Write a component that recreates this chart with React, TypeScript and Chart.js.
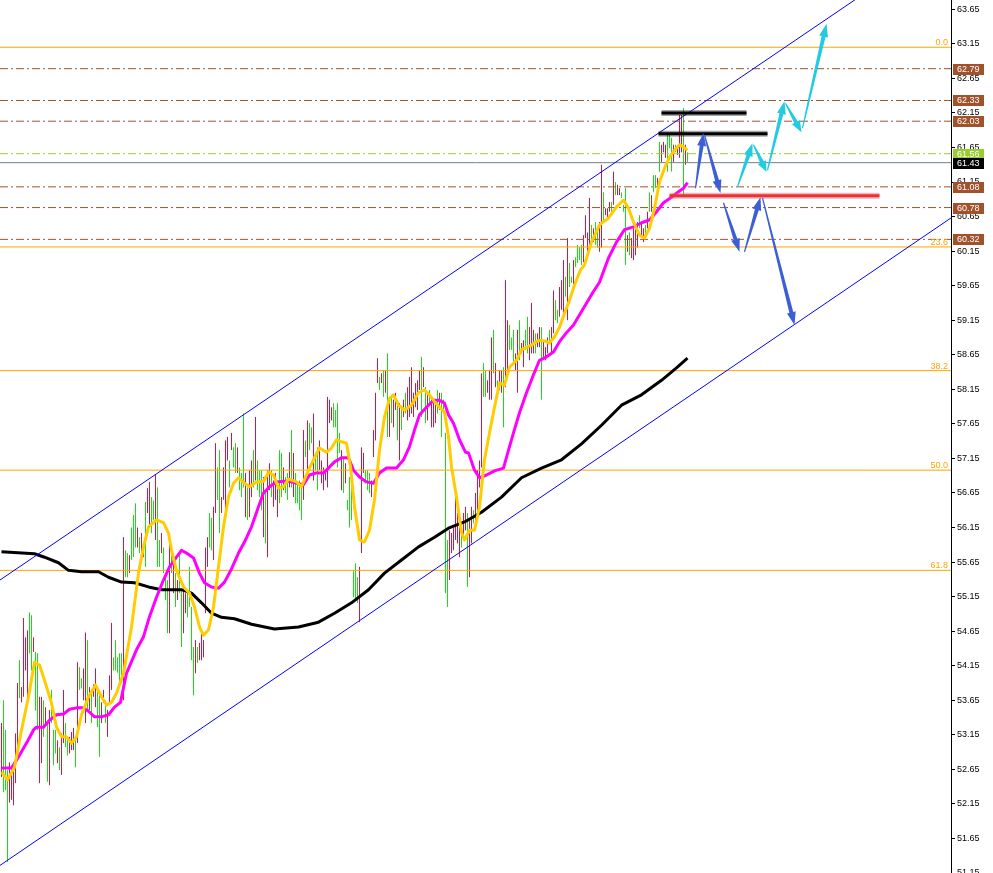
import React, { useEffect, useRef } from 'react';
import { Chart, registerables } from 'chart.js';
Chart.register(...registerables);

const X_MIN = -0.75;
const X_MAX = 474.75;
const Y_MIN = 51.15;
const Y_MAX = 63.784;

const yTicks = [51.15, 51.65, 52.15, 52.65, 53.15, 53.65, 54.15, 54.65, 55.15, 55.65, 56.15, 56.65, 57.15, 57.65, 58.15, 58.65, 59.15, 59.65, 60.15, 60.65, 61.15, 61.65, 62.15, 62.65, 63.15, 63.65];

// [high, low, up(1)/down(0)]
const bars: [number, number, number][] = [
  [53.32,52.54,0],[53.65,52.32,1],[53.22,52.35,1],[52.64,51.31,1],[52.75,52.17,0],[52.68,52.21,0],[52.74,52.13,0],[53.17,52.45,0],[53.90,52.78,0],[54.23,53.68,1],
  [53.84,53.62,0],[54.84,53.70,0],[54.56,54.08,0],[54.66,53.65,0],[54.92,54.33,1],[54.88,54.08,1],[54.56,54.35,0],[54.35,53.50,1],[54.33,53.22,1],[53.70,52.45,0],
  [53.70,52.74,0],[53.65,53.12,1],[53.55,53.32,0],[53.32,52.47,1],[53.51,52.42,0],[53.80,53.32,1],[53.22,52.71,1],[53.22,52.88,1],[53.07,52.74,0],[52.97,52.64,1],
  [53.17,52.57,0],[53.80,53.03,0],[53.32,52.97,1],[53.12,52.85,1],[53.12,52.88,0],[53.19,52.93,0],[53.25,52.93,0],[53.07,52.68,1],[54.20,53.03,0],[54.13,53.80,1],
  [53.97,53.82,1],[54.11,53.65,0],[54.63,53.32,0],[54.52,53.51,1],[53.84,53.51,0],[53.80,53.32,1],[53.88,53.70,0],[54.11,53.55,0],[53.80,53.26,1],[53.75,52.83,1],
  [53.62,53.32,0],[53.80,53.61,0],[53.65,53.32,1],[53.51,53.12,0],[54.01,53.61,0],[54.77,53.80,0],[54.27,54.08,1],[54.52,54.08,1],[54.27,54.05,1],[54.33,53.84,1],
  [54.33,53.90,1],[56.01,53.65,0],[55.82,55.43,1],[55.78,55.43,1],[55.75,55.49,0],[56.15,55.68,1],[56.33,55.72,1],[56.50,55.86,1],[56.15,55.86,0],[56.01,55.78,1],
  [56.07,55.68,0],[55.92,55.72,0],[56.52,55.58,1],[56.72,56.36,0],[56.81,56.15,0],[56.59,56.07,1],[56.54,56.26,1],[56.91,55.97,0],[56.73,55.58,1],[55.97,55.58,1],
  [56.07,55.78,0],[55.86,55.49,1],[55.49,55.10,1],[55.39,54.62,1],[55.92,54.62,0],[55.78,55.49,1],[55.63,55.20,0],[55.49,55.00,1],[55.39,55.10,0],[55.78,55.20,1],
  [55.24,54.42,1],[55.29,54.62,0],[55.20,54.91,0],[55.24,54.85,1],[55.58,55.00,1],[55.00,54.23,1],[54.42,53.72,1],[54.52,54.04,0],[54.42,54.19,1],[54.48,54.23,0],
  [54.62,54.23,0],[54.52,54.27,0],[55.86,54.91,0],[56.01,55.58,0],[56.36,55.86,1],[56.29,55.82,1],[56.45,55.68,0],[57.37,56.36,0],[57.02,56.55,1],[57.27,56.07,1],
  [56.59,56.36,0],[57.02,56.55,0],[57.41,56.30,0],[57.46,57.12,0],[57.12,56.73,1],[57.52,57.27,0],[57.31,57.02,1],[57.37,56.94,1],[57.31,56.94,0],[57.02,56.69,1],
  [56.94,56.59,1],[57.80,56.73,1],[56.94,56.30,0],[56.73,56.26,1],[56.98,56.30,0],[57.12,56.59,0],[57.27,56.73,1],[57.75,56.83,0],[57.12,56.69,1],[56.98,56.59,1],
  [56.98,56.40,1],[56.88,56.01,0],[56.69,55.92,1],[56.98,55.72,0],[57.08,56.69,0],[56.98,56.59,1],[56.83,56.45,0],[56.94,56.55,0],[56.73,56.30,0],[57.27,56.50,1],
  [57.23,56.59,1],[57.02,56.69,0],[56.88,56.65,1],[56.94,56.55,1],[57.24,56.73,0],[57.56,56.73,1],[57.23,56.59,0],[56.94,56.50,1],[56.79,56.50,1],[56.83,56.40,1],
  [56.73,56.26,1],[57.56,56.55,0],[57.41,57.17,1],[57.70,56.98,0],[57.66,57.27,1],[57.60,57.37,1],[57.80,56.83,0],[57.23,56.98,1],[57.31,56.69,1],[57.41,56.98,0],
  [57.12,56.79,0],[57.02,56.69,0],[56.94,56.83,0],[58.04,56.73,0],[58.00,57.66,0],[57.89,57.70,0],[57.95,57.60,1],[57.85,57.60,1],[57.95,57.02,1],[57.52,57.23,1],
  [57.27,56.69,0],[57.17,56.65,1],[57.08,56.79,0],[56.55,56.40,1],[56.88,56.15,1],[57.02,56.26,1],[55.53,55.14,1],[55.63,55.10,1],[55.43,55.06,1],[55.58,54.78,0],
  [57.31,55.78,0],[57.23,56.94,0],[56.98,56.79,1],[56.98,56.69,1],[56.94,56.65,1],[56.83,56.59,0],[57.56,57.17,0],[58.10,57.41,0],[58.60,58.24,0],[58.33,58.14,1],
  [58.38,58.24,0],[58.43,58.04,1],[58.43,58.10,0],[58.67,57.46,1],[57.95,57.46,0],[58.04,57.66,1],[58.00,57.60,0],[58.10,57.85,0],[57.95,57.41,1],[57.95,57.12,0],
  [57.89,57.56,1],[58.00,57.75,0],[58.10,57.80,1],[58.18,57.70,0],[58.33,57.75,0],[58.47,57.80,0],[58.10,57.75,0],[58.24,57.89,0],[58.28,57.85,0],[58.43,58.14,0],
  [58.62,57.75,1],[58.47,58.18,0],[58.18,57.66,1],[58.10,57.70,0],[58.14,57.95,1],[58.00,57.60,0],[58.00,57.60,0],[57.95,57.66,0],[58.14,57.80,1],[58.10,57.85,0],
  [58.10,57.46,1],[58.00,57.85,1],[57.52,55.20,1],[55.97,55.00,1],[56.11,55.39,0],[56.07,55.78,0],[56.15,55.82,0],[56.59,55.97,0],[56.36,55.92,0],[56.15,55.72,0],
  [56.21,55.86,1],[56.36,55.97,0],[56.45,56.11,0],[56.36,55.29,1],[56.26,55.43,0],[56.45,55.92,0],[56.40,56.21,1],[56.65,56.26,0],[56.98,56.40,0],[57.12,56.73,0],
  [58.38,57.02,0],[58.53,58.04,1],[58.43,58.04,1],[58.28,58.10,0],[58.43,58.00,0],[58.90,58.00,0],[59.01,58.38,1],[58.53,58.18,0],[58.28,58.14,1],[58.43,58.14,0],
  [58.43,58.10,0],[58.47,57.60,1],[59.73,58.18,0],[59.15,58.33,0],[59.08,58.72,1],[58.90,58.72,1],[59.01,58.53,1],[58.67,58.43,0],[59.01,58.10,0],[59.15,58.57,1],
  [58.82,58.67,0],[58.86,58.47,0],[59.01,58.72,1],[59.20,58.67,1],[59.05,58.57,0],[59.40,58.67,0],[59.01,58.67,0],[58.96,58.67,1],[58.96,58.76,0],[59.05,58.76,0],
  [59.05,58.00,1],[58.86,58.62,0],[58.76,58.57,0],[58.90,58.67,0],[59.01,58.82,1],[59.05,58.67,0],[59.58,58.96,0],[59.44,59.15,1],[59.30,59.11,1],[59.63,59.20,0],
  [59.73,59.30,0],[60.02,59.20,0],[59.78,59.49,1],[60.34,59.15,0],[59.98,59.63,1],[59.78,59.69,1],[60.02,59.63,0],[60.06,59.92,1],[60.24,59.98,1],[60.21,60.02,1],
  [60.24,59.95,1],[60.38,59.99,0],[60.67,60.34,0],[60.42,60.09,0],[60.92,60.20,0],[60.53,60.24,1],[60.48,60.28,0],[60.57,60.24,1],[60.48,60.20,1],[60.57,60.14,0],
  [61.40,60.20,0],[61.00,60.57,1],[60.77,60.67,0],[60.77,60.63,0],[60.86,60.72,0],[60.86,60.67,1],[61.30,60.82,0],[61.15,60.96,1],[61.11,60.96,0],[61.06,60.96,0],
  [61.00,60.92,1],[60.82,60.72,1],[61.06,59.95,1],[60.38,60.14,0],[60.42,60.09,1],[60.34,60.05,0],[60.48,60.02,0],[60.53,60.09,0],[60.57,60.20,0],[60.67,60.48,1],
  [60.57,60.34,0],[60.48,60.28,0],[60.53,60.38,1],[60.72,60.48,0],[61.00,60.72,1],[60.96,60.72,0],[61.25,61.00,1],[61.25,61.06,1],[61.21,60.96,0],[61.73,61.30,1],
  [61.69,61.44,0],[61.73,61.58,0],[61.69,61.50,0],[61.83,61.30,1],[61.83,61.64,1],[61.79,61.30,1],[61.69,61.44,0],[61.69,61.58,1],[61.64,61.54,0],[62.12,61.50,0],
  [62.12,61.58,0],[62.22,60.96,1],[61.69,61.40,0],[61.58,61.44,1],
];

// moving averages: [bar position, price]
const maFast: [number, number][] = [
  [0,52.61],[3,52.50],[6.5,52.68],[10,53.22],[13.5,53.70],[16.5,54.20],[19,54.16],[21.5,53.94],[25,53.61],[27.5,53.26],[30,53.12],[32.5,53.12],[35,53.03],[37.5,53.12],[40,53.44],[43.5,53.70],[47,53.87],[50,53.70],[52.5,53.58],[55,53.62],[57.5,53.75],[61,54.04],[65,54.71],[68.5,55.49],[71,55.87],[73.5,56.16],[77.5,56.26],[81,56.22],[83.5,56.07],[85,55.82],[87.5,55.53],[91,55.29],[94,55.20],[96.5,55.00],[99,54.71],[101,54.59],[103.5,54.67],[106,55.00],[108.5,55.58],[111,56.16],[113.5,56.59],[116,56.79],[118.5,56.87],[121.5,56.79],[124,56.74],[127.5,56.81],[131,56.82],[133.5,56.95],[136,56.91],[138.5,56.72],[141,56.74],[143.5,56.85],[147.5,56.81],[150,56.74],[153.5,56.98],[156.5,57.16],[159,57.30],[162.5,57.24],[165,57.30],[167.5,57.42],[170,57.39],[172.5,57.37],[174.5,57.03],[176.5,56.45],[179,55.97],[181.5,55.94],[184,56.11],[186.5,56.55],[189,57.27],[191.5,57.75],[194,58.02],[196,58.07],[198.5,57.92],[201.5,57.85],[205,57.92],[208.5,58.10],[211.5,58.14],[214,58.07],[216.5,57.97],[219,57.89],[221.5,57.82],[223.5,57.46],[225,57.03],[227.5,56.59],[230,56.08],[231.5,55.97],[234,56.11],[236.5,56.11],[239,56.45],[241.5,57.13],[244,57.52],[246.5,57.89],[249,58.24],[251.5,58.21],[254,58.47],[257.5,58.57],[260,58.72],[262.5,58.76],[265,58.79],[268.5,58.86],[271.5,58.85],[274,58.82],[276.5,58.91],[279,59.05],[281.5,59.25],[284,59.44],[286.5,59.66],[289.5,59.88],[291.5,59.95],[295,60.28],[299,60.53],[303.5,60.63],[307.5,60.79],[311,60.89],[313.5,60.77],[316,60.57],[319,60.38],[321.5,60.34],[324,60.48],[326.5,60.77],[329,61.15],[331.5,61.35],[334,61.51],[336.5,61.61],[339,61.69],[341,61.66],[343,61.61],
];
const maMid: [number, number][] = [
  [0,52.67],[5,52.67],[8.5,52.83],[12.5,53.03],[16,53.22],[17.5,53.26],[21,53.26],[24,53.36],[27.5,53.44],[31,53.45],[34,53.52],[37.5,53.54],[41,53.54],[44,53.48],[46.5,53.41],[50,53.41],[53.5,53.44],[56.5,53.55],[59.5,53.62],[62.5,54.04],[67.5,54.38],[71,54.57],[74,54.86],[77.5,55.14],[81,55.39],[84,55.58],[87.5,55.72],[90,55.82],[92.5,55.78],[96,55.71],[99,55.49],[101.5,55.35],[105,55.29],[108.5,55.27],[111.5,55.36],[115,55.55],[118.5,55.78],[121.5,55.94],[125,56.16],[128.5,56.45],[131,56.65],[134,56.74],[137.5,56.81],[141,56.82],[144,56.82],[147.5,56.79],[151,56.77],[154,56.91],[157.5,56.94],[161,56.94],[163.5,57.01],[166.5,57.10],[170,57.16],[173.5,57.16],[176,56.98],[179,56.88],[182.5,56.81],[186,56.79],[189,56.94],[192.5,57.01],[197.5,57.01],[201,57.13],[204,57.32],[206.5,57.56],[209,57.78],[212.5,57.89],[216,57.99],[219,57.99],[221.5,57.95],[223.5,57.78],[226,57.66],[229,57.42],[232,57.24],[233.5,57.23],[236.5,56.98],[239,56.87],[242.5,56.91],[246.5,56.97],[251,57.01],[253.5,57.27],[256,57.52],[259,57.81],[262.5,58.10],[266,58.36],[269,58.57],[272.5,58.62],[276,58.69],[279,58.84],[282.5,58.97],[286,59.08],[289.5,59.25],[295,59.52],[299,59.70],[303.5,60.05],[307.5,60.28],[311.5,60.46],[316,60.50],[320,60.56],[324,60.60],[327.5,60.72],[331,60.85],[335,60.93],[338.5,61.01],[341,61.06],[343,61.14],
];
const maSlow: [number, number][] = [
  [0,55.80],[16.5,55.77],[21.5,55.72],[28.5,55.64],[33.5,55.53],[40,55.51],[48.5,55.51],[53.5,55.43],[60,55.36],[66.5,55.35],[73.5,55.29],[80,55.25],[90,55.25],[95,55.20],[100,55.06],[105,54.91],[110,54.85],[116.5,54.83],[125,54.75],[136.5,54.68],[148.5,54.71],[158.5,54.78],[166.5,54.91],[175,55.06],[183.5,55.25],[191.5,55.49],[200,55.68],[208.5,55.87],[216.5,56.01],[223.5,56.14],[231.5,56.23],[240,56.37],[250,56.59],[260,56.87],[270,57.01],[280,57.13],[290,57.36],[300,57.63],[310,57.92],[320,58.07],[330,58.28],[337.5,58.46],[343,58.60],
];

const fibLabels = ['0.0', '23.6', '38.2', '50.0', '61.8'];
const fibValues = [63.10, 60.21, 58.42, 56.98, 55.53];
const brownLevels = [62.79, 62.33, 62.03, 61.08, 60.78, 60.32];
const askLevel = 61.56;
const bidLevel = 61.43;

const channelUpper: [number, number][] = [[-0.75, 55.39], [474.75, 64.73]];
const channelLower: [number, number][] = [[-0.75, 51.26], [474.75, 60.63]];

// [xStart, xEnd, price]
const blackSegments: [number, number, number][] = [[330, 372.5, 62.15], [328.5, 383, 61.85]];
const redSegment: [number, number, number] = [334, 439, 60.95];

// [x1, price1, x2, price2]
const blueArrows: [number, number, number, number][] = [
  [347, 61.06, 351, 61.86],
  [351.5, 61.83, 359.5, 60.99],
  [361, 60.85, 369, 60.14],
  [371.5, 60.14, 379.5, 60.93],
  [380.5, 60.92, 396.5, 59.08],
];
const cyanArrows: [number, number, number, number][] = [
  [368, 61.08, 375.5, 61.71],
  [376, 61.69, 382.5, 61.30],
  [383, 61.32, 391.5, 62.32],
  [392, 62.29, 400, 61.87],
  [400.5, 61.93, 412.5, 63.44],
];

const FONT = 'Liberation Sans';

const arrowPlugin = {
  id: 'arrowsPlugin',
  afterDatasetsDraw(chart: any) {
    const { ctx, chartArea, scales } = chart;
    const xs = scales.x, ys = scales.y;
    ctx.save();
    ctx.beginPath();
    ctx.rect(chartArea.left, chartArea.top, chartArea.right - chartArea.left, chartArea.bottom - chartArea.top);
    ctx.clip();
    const draw = (a: number[], color: string) => {
      const x1 = xs.getPixelForValue(a[0]), y1 = ys.getPixelForValue(a[1]);
      const x2 = xs.getPixelForValue(a[2]), y2 = ys.getPixelForValue(a[3]);
      const dx = x2 - x1, dy = y2 - y1, len = Math.hypot(dx, dy);
      const ux = dx / len, uy = dy / len, nx = -uy, ny = ux;
      const head = Math.min(13, len * 0.35);
      const bx = x2 - ux * head, by = y2 - uy * head;
      ctx.beginPath();
      ctx.moveTo(x1 + nx * 0.6, y1 + ny * 0.6);
      ctx.lineTo(bx + nx * 2, by + ny * 2);
      ctx.lineTo(bx + nx * 4.5, by + ny * 4.5);
      ctx.lineTo(x2, y2);
      ctx.lineTo(bx - nx * 4.5, by - ny * 4.5);
      ctx.lineTo(bx - nx * 2, by - ny * 2);
      ctx.lineTo(x1 - nx * 0.6, y1 - ny * 0.6);
      ctx.closePath();
      ctx.fillStyle = color;
      ctx.fill();
    };
    blueArrows.forEach((a) => draw(a, '#3d5fd6'));
    cyanArrows.forEach((a) => draw(a, '#22cbe0'));
    ctx.restore();
  },
};

const labelPlugin = {
  id: 'levelLabels',
  afterDraw(chart: any) {
    const { ctx, chartArea, scales } = chart;
    const ys = scales.y;
    ctx.save();
    ctx.font = `9px "${FONT}"`;
    ctx.textAlign = 'right';
    ctx.textBaseline = 'alphabetic';
    ctx.fillStyle = '#FFA500';
    fibValues.forEach((v, i) => {
      ctx.fillText(fibLabels[i], chartArea.right - 3, Math.round(ys.getPixelForValue(v)) - 2);
    });
    ctx.textAlign = 'left';
    ctx.textBaseline = 'middle';
    const box = (v: number, bg: string) => {
      const py = Math.round(ys.getPixelForValue(v));
      ctx.fillStyle = bg;
      ctx.fillRect(chartArea.right + 2, py - 5, 31, 11);
      ctx.fillStyle = '#ffffff';
      ctx.fillText(v.toFixed(2), chartArea.right + 6, py + 0.5);
    };
    brownLevels.forEach((v) => box(v, '#A0522D'));
    box(askLevel, '#9ACD32');
    box(bidLevel, '#000000');
    ctx.restore();
  },
};

function lineDs(pts: [number, number][], color: string, width: number, order: number, dash: number[] = []) {
  return {
    type: 'line' as const,
    data: pts.map(([x, y]) => ({ x, y })),
    borderColor: color,
    borderWidth: width,
    borderDash: dash,
    pointRadius: 0,
    fill: false,
    tension: 0,
    order,
    clip: 0,
    borderJoinStyle: 'round' as const,
  };
}

// vertical high-low strokes, one dataset per direction, separated by gaps
function barStrokes(up: number) {
  const pts: { x: number; y: number | null }[] = [];
  bars.forEach((b, i) => {
    if (b[2] !== up) return;
    pts.push({ x: i, y: b[1] }, { x: i, y: b[0] }, { x: i, y: null });
  });
  return {
    type: 'line' as const,
    data: pts,
    borderColor: up ? '#14e014' : '#dc143c',
    borderWidth: 1,
    pointRadius: 0,
    fill: false,
    tension: 0,
    spanGaps: false,
    order: 30,
    clip: 0,
    borderCapStyle: 'butt' as const,
  };
}

export default function App() {
  const ref = useRef<HTMLCanvasElement | null>(null);
  useEffect(() => {
    if (!ref.current) return;
    const dash = [8, 3, 2, 3];
    const datasets: any[] = [];
    datasets.push(barStrokes(1));
    datasets.push(barStrokes(0));
    fibValues.forEach((v) => datasets.push(lineDs([[X_MIN, v], [X_MAX, v]], '#FFA500', 1, 20)));
    brownLevels.forEach((v) => datasets.push(lineDs([[X_MIN, v], [X_MAX, v]], '#A0522D', 1, 20, dash)));
    datasets.push(lineDs([[X_MIN, askLevel], [X_MAX, askLevel]], '#9ACD32', 1, 20, dash));
    datasets.push(lineDs([[X_MIN, bidLevel], [X_MAX, bidLevel]], '#708090', 1, 20));
    datasets.push(lineDs(maSlow, '#000000', 3, 12));
    datasets.push(lineDs(maMid, '#ff00ff', 3, 11));
    datasets.push(lineDs(maFast, '#ffcc00', 3, 10));
    datasets.push(lineDs(channelUpper, '#0000ff', 1, 8));
    datasets.push(lineDs(channelLower, '#0000ff', 1, 8));
    blackSegments.forEach((s) => {
      datasets.push(lineDs([[s[0], s[2]], [s[1], s[2]]], 'rgba(0,0,0,0.35)', 6, 6));
      datasets.push(lineDs([[s[0], s[2]], [s[1], s[2]]], '#000000', 3, 5));
    });
    datasets.push(lineDs([[redSegment[0], redSegment[2]], [redSegment[1], redSegment[2]]], 'rgba(240,90,90,0.45)', 6, 4));
    datasets.push(lineDs([[redSegment[0], redSegment[2]], [redSegment[1], redSegment[2]]], '#e8323a', 3, 3));

    const chart = new Chart(ref.current, {
      type: 'line',
      data: { datasets },
      options: {
        responsive: false,
        animation: false,
        events: [],
        layout: { padding: 0 },
        plugins: { legend: { display: false }, tooltip: { enabled: false } },
        scales: {
          x: {
            type: 'linear',
            min: X_MIN,
            max: X_MAX,
            display: false,
            offset: false,
            grid: { display: false },
          },
          y: {
            type: 'linear',
            position: 'right',
            min: Y_MIN,
            max: Y_MAX,
            afterBuildTicks: (s: any) => {
              s.ticks = yTicks.map((v) => ({ value: v }));
            },
            afterFit: (s: any) => {
              s.width = 42;
              s.paddingTop = 0;
              s.paddingBottom = 0;
            },
            grid: { drawOnChartArea: false, drawTicks: true, tickLength: 4, color: '#000000', lineWidth: 1 },
            border: { display: true, color: '#000000', width: 1 },
            ticks: {
              color: '#000000',
              padding: 2,
              autoSkip: false,
              maxRotation: 0,
              font: { family: FONT, size: 9 },
              callback: (v: any) => Number(v).toFixed(2),
            },
          },
        },
      } as any,
      plugins: [arrowPlugin, labelPlugin],
    });
    return () => chart.destroy();
  }, []);

  return (
    <div style={{ position: 'fixed', left: 0, top: 0, width: 993, height: 873, background: '#ffffff' }}>
      <canvas ref={ref} width={993} height={873} style={{ display: 'block' }} />
    </div>
  );
}
